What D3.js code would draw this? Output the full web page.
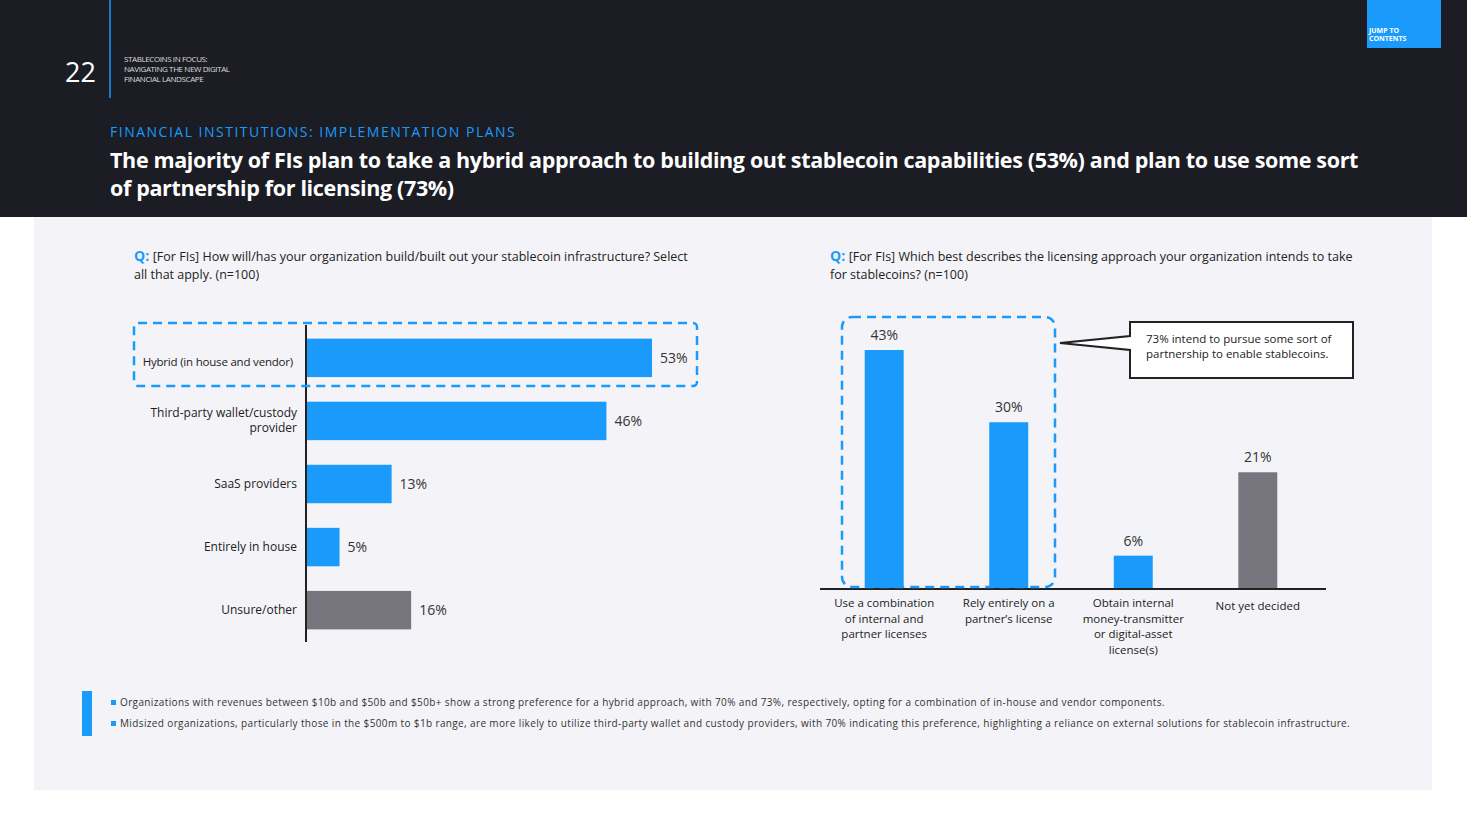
<!DOCTYPE html>
<html><head><meta charset="utf-8">
<script src="https://cdn.jsdelivr.net/npm/d3@7"></script>
<style>body{margin:0;background:#fff;font-family:"Open Sans",sans-serif}</style>
</head><body>
<svg id="c" width="1467" height="825"></svg>
<script>
const buildCats = ['Hybrid (in house and vendor)', 'Third-party wallet/custody\nprovider', 'SaaS providers', 'Entirely in house', 'Unsure/other']
const buildVals = [53, 46, 13, 5, 16]
const licCats = ['Use a combination\nof internal and\npartner licenses', 'Rely entirely on a\npartner\u2019s license', 'Obtain internal\nmoney-transmitter\nor digital-asset\nlicense(s)', 'Not yet decided']
const licVals = [43, 30, 6, 21]
const blue = '#1a9bfc', grey = '#77767f', dark = '#1b1c24'

const svg = d3.select('#c')
svg.append('rect').attr('width', 1467).attr('height', 217).attr('fill', dark)
svg.append('rect').attr('x', 34).attr('y', 217).attr('width', 1398).attr('height', 573).attr('fill', '#f4f4f8')
svg.append('line').attr('x1', 110).attr('x2', 110).attr('y1', 0).attr('y2', 98).attr('stroke', blue).attr('stroke-width', 1.5)
svg.append('text').attr('x', 65).attr('y', 82).attr('fill', '#fff').attr('font-size', 27).text('22')
;['STABLECOINS IN FOCUS:', 'NAVIGATING THE NEW DIGITAL', 'FINANCIAL LANDSCAPE'].forEach((t, i) =>
  svg.append('text').attr('x', 124).attr('y', 62 + i * 10).attr('fill', '#ddd').attr('font-size', 8).attr('letter-spacing', -0.4).text(t))
svg.append('rect').attr('x', 1367).attr('y', 0).attr('width', 74).attr('height', 48).attr('fill', blue)
;['JUMP TO', 'CONTENTS'].forEach((t, i) =>
  svg.append('text').attr('x', 1369).attr('y', 33 + i * 8).attr('fill', '#fff').attr('font-size', 7).attr('font-weight', 'bold').text(t))
svg.append('text').attr('x', 110).attr('y', 137).attr('fill', blue).attr('font-size', 14).attr('letter-spacing', 1.5).text('FINANCIAL INSTITUTIONS: IMPLEMENTATION PLANS')
;['The majority of FIs plan to take a hybrid approach to building out stablecoin capabilities (53%) and plan to use some sort', 'of partnership for licensing (73%)'].forEach((t, i) =>
  svg.append('text').attr('x', 110).attr('y', 168 + i * 28).attr('fill', '#fff').attr('font-size', 21.5).attr('font-weight', 'bold').attr('letter-spacing', -0.35).text(t))

function question(x, lines) {
  const t = svg.append('text').attr('x', x).attr('y', 261).attr('font-size', 12.5).attr('fill', '#222')
  t.append('tspan').attr('fill', blue).attr('font-weight', 'bold').attr('font-size', 14).text('Q: ')
  t.append('tspan').text(lines[0])
  svg.append('text').attr('x', x).attr('y', 279).attr('font-size', 12.5).attr('fill', '#222').text(lines[1])
}
question(134, ['[For FIs] How will/has your organization build/built out your stablecoin infrastructure? Select', 'all that apply. (n=100)'])
question(830, ['[For FIs] Which best describes the licensing approach your organization intends to take', 'for stablecoins? (n=100)'])

// left chart
const x = d3.scaleLinear().domain([0, 53]).range([307, 652])
const y = d3.scaleBand().domain(buildCats).range([326, 642]).paddingInner(0.39).paddingOuter(0.2)
svg.selectAll('.lb').data(buildCats).join('rect')
  .attr('x', x(0)).attr('y', d => y(d)).attr('height', y.bandwidth())
  .attr('width', (d, i) => x(buildVals[i]) - x(0)).attr('fill', (d, i) => i === 4 ? grey : blue)
svg.selectAll('.lv').data(buildCats).join('text')
  .attr('x', (d, i) => x(buildVals[i]) + 8).attr('y', d => y(d) + y.bandwidth() / 2 + 5)
  .attr('font-size', 14).attr('fill', '#333').text((d, i) => buildVals[i] + '%')
buildCats.forEach((c, i) => {
  const ls = c.split('\n')
  ls.forEach((l, j) => svg.append('text').attr('x', i === 0 ? 293 : 297).attr('text-anchor', 'end')
    .attr('y', y(c) + y.bandwidth() / 2 + 4 + (i === 0 ? 4 : 0) + (j - (ls.length - 1) / 2) * 15)
    .attr('font-size', i === 0 ? 11.5 : 12).attr('letter-spacing', i === 0 ? -0.2 : 0).attr('fill', '#222').text(l))
})
svg.append('line').attr('x1', 306).attr('x2', 306).attr('y1', 325).attr('y2', 642).attr('stroke', '#222').attr('stroke-width', 2)
svg.append('rect').attr('x', 134).attr('y', 323).attr('width', 563).attr('height', 63).attr('rx', 4)
  .attr('fill', 'none').attr('stroke', blue).attr('stroke-width', 2.5).attr('stroke-dasharray', '9,6')

// right chart
const bx = d3.scaleBand().domain(licCats).range([822, 1320]).paddingInner(0.687).paddingOuter(0.343)
const by = d3.scaleLinear().domain([0, 43]).range([589, 350])
svg.selectAll('.rb').data(licCats).join('rect')
  .attr('x', d => bx(d)).attr('width', bx.bandwidth())
  .attr('y', (d, i) => by(licVals[i])).attr('height', (d, i) => by(0) - by(licVals[i]))
  .attr('fill', (d, i) => i === 3 ? grey : blue)
svg.selectAll('.rv').data(licCats).join('text')
  .attr('x', d => bx(d) + bx.bandwidth() / 2).attr('y', (d, i) => by(licVals[i]) - 10)
  .attr('text-anchor', 'middle').attr('font-size', 14).attr('fill', '#333').text((d, i) => licVals[i] + '%')
licCats.forEach(c => c.split('\n').forEach((l, j) =>
  svg.append('text').attr('x', bx(c) + bx.bandwidth() / 2).attr('y', 607 + j * 15.5 + (c.startsWith('Not') ? 3 : 0))
    .attr('text-anchor', 'middle').attr('font-size', 11.5).attr('fill', '#222').text(l)))
svg.append('line').attr('x1', 820).attr('x2', 1326).attr('y1', 589).attr('y2', 589).attr('stroke', '#222').attr('stroke-width', 2)
svg.append('rect').attr('x', 842).attr('y', 317).attr('width', 213).attr('height', 270).attr('rx', 10)
  .attr('fill', 'none').attr('stroke', blue).attr('stroke-width', 2.5).attr('stroke-dasharray', '9,6')
svg.append('path').attr('d', 'M1130,322 H1353 V378 H1130 V350 L1060,343 L1130,336 Z')
  .attr('fill', '#fff').attr('stroke', '#222').attr('stroke-width', 2)
;['73% intend to pursue some sort of', 'partnership to enable stablecoins.'].forEach((t, i) =>
  svg.append('text').attr('x', 1146).attr('y', 343 + i * 15).attr('font-size', 11.5).attr('fill', '#222').text(t))

// notes
svg.append('rect').attr('x', 82).attr('y', 691).attr('width', 10).attr('height', 45).attr('fill', blue)
;['Organizations with revenues between $10b and $50b and $50b+ show a strong preference for a hybrid approach, with 70% and 73%, respectively, opting for a combination of in-house and vendor components.',
  'Midsized organizations, particularly those in the $500m to $1b range, are more likely to utilize third-party wallet and custody providers, with 70% indicating this preference, highlighting a reliance on external solutions for stablecoin infrastructure.'].forEach((t, i) => {
  svg.append('rect').attr('x', 111).attr('y', 700 + i * 21).attr('width', 5).attr('height', 5).attr('fill', blue)
  svg.append('text').attr('x', 120).attr('y', 706 + i * 21).attr('font-size', 10).attr('fill', '#333').attr('letter-spacing', 0.37).text(t)
})
</script>
</body></html>
